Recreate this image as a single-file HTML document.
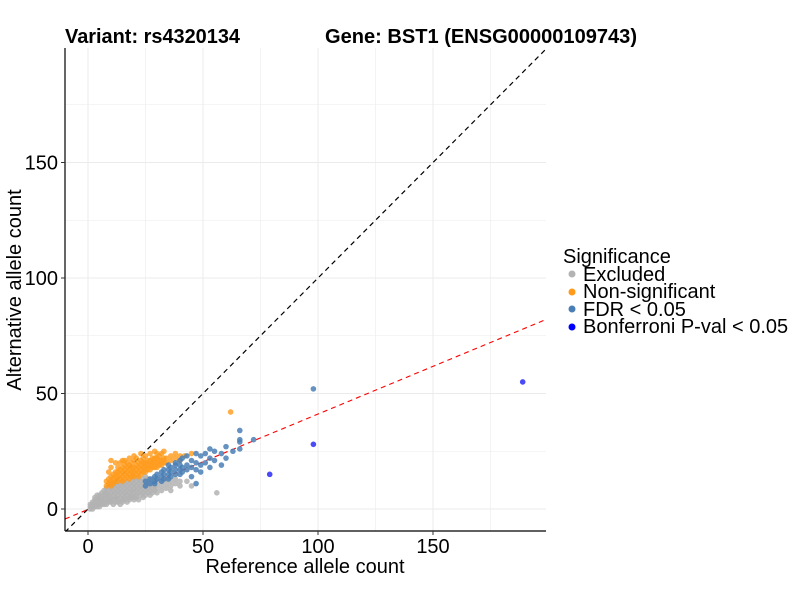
<!DOCTYPE html>
<html><head><meta charset="utf-8"><style>
body{margin:0;background:#fff;font-family:"Liberation Sans",Arial,sans-serif}
</style></head><body>
<svg id="chart" width="800" height="600" xmlns="http://www.w3.org/2000/svg">
<rect width="800" height="600" fill="#fff"/>
<g id="grid"></g>
<g id="lines"></g>
<g id="pts"></g>
<g id="axes"></g>
<text x="65" y="43" font-size="20" font-weight="bold" textLength="175" lengthAdjust="spacingAndGlyphs">Variant: rs4320134</text>
<text x="325" y="43" font-size="20" font-weight="bold" textLength="312" lengthAdjust="spacingAndGlyphs">Gene: BST1 (ENSG00000109743)</text>
<text x="305" y="573" font-size="20" text-anchor="middle">Reference allele count</text>
<text transform="translate(21,290) rotate(-90)" font-size="20" text-anchor="middle">Alternative allele count</text>
<g font-size="20">
<text x="563" y="263">Significance</text>
<g><circle cx="572" cy="274" r="3.5" fill="#b3b3b3"/><text x="583" y="281">Excluded</text></g>
<g><circle cx="572" cy="292" r="3.5" fill="#ff9a1a"/><text x="583" y="298">Non-significant</text></g>
<g><circle cx="572" cy="309" r="3.5" fill="#4a7fb5"/><text x="583" y="316">FDR &lt; 0.05</text></g>
<g><circle cx="572" cy="327" r="3.5" fill="#0000ff"/><text x="583" y="333">Bonferroni P-val &lt; 0.05</text></g>
</g>
</svg>
<script>
const xTicks=[0,50,100,150];
const yTicks=[0,50,100,150];
const xMinor=[25,75,125,175];
const yMinor=[25,75,125,175];
const redSlope=0.413, redIntercept=-0.2;
const grayPts=[[1,0],[1,1],[1,2],[2,1],[2,2],[2,3],[2,0],[3,1],[3,2],[3,3],[3,4],[3,5],[4,2],[4,3],[4,4],[4,1],[4,6],[5,2],[5,3],[5,5],[5,6],[5,1],[6,2],[6,4],[6,5],[6,7],[6,3],[7,3],[7,4],[7,6],[7,8],[7,2],[8,3],[8,5],[8,6],[8,7],[8,9],[8,2],[9,3],[9,4],[9,6],[9,8],[9,10],[10,4],[10,5],[10,7],[10,9],[10,3],[10,11],[11,4],[11,6],[11,8],[11,10],[11,2],[12,3],[12,5],[12,7],[12,9],[12,11],[13,4],[13,6],[13,8],[13,10],[13,3],[14,5],[14,7],[14,9],[14,11],[14,2],[15,4],[15,6],[15,8],[15,10],[15,12],[15,3],[16,5],[16,7],[16,9],[16,11],[16,4],[17,6],[17,8],[17,10],[17,12],[17,3],[18,5],[18,7],[18,9],[18,11],[18,4],[19,6],[19,8],[19,10],[19,12],[19,5],[20,5],[20,7],[20,9],[20,11],[20,13],[20,4],[21,6],[21,8],[21,10],[21,12],[21,5],[22,7],[22,9],[22,11],[22,13],[22,4],[23,6],[23,8],[23,10],[23,12],[24,7],[24,9],[24,11],[24,13],[24,5],[25,6],[25,8],[25,10],[25,12],[25,14],[26,7],[26,9],[26,11],[26,13],[27,8],[27,10],[27,12],[27,6],[28,7],[28,9],[28,11],[28,13],[29,8],[29,10],[29,12],[30,7],[30,9],[30,11],[30,13],[32,8],[32,10],[32,12],[34,9],[34,11],[34,13],[36,10],[36,12],[36,8],[38,11],[38,13],[40,10],[40,12],[43,12],[45,10],[56,7]];
const orangePts=[[8,10],[8,12],[9,11],[9,13],[9,16],[10,10],[10,12],[10,14],[10,18],[10,21],[11,11],[11,13],[11,15],[12,12],[12,14],[12,16],[12,20],[13,12],[13,14],[13,16],[13,18],[14,13],[14,15],[14,17],[14,20],[15,12],[15,14],[15,16],[15,18],[15,21],[16,13],[16,15],[16,17],[16,19],[16,21],[17,14],[17,16],[17,18],[17,20],[18,13],[18,15],[18,17],[18,19],[18,22],[19,14],[19,16],[19,18],[19,20],[20,14],[20,16],[20,18],[20,21],[20,23],[21,15],[21,17],[21,19],[21,22],[22,14],[22,16],[22,18],[22,20],[23,15],[23,17],[23,19],[23,21],[23,24],[24,16],[24,18],[24,20],[24,22],[25,16],[25,18],[25,20],[25,23],[26,17],[26,19],[26,21],[27,17],[27,19],[27,21],[27,24],[28,18],[28,20],[28,22],[29,18],[29,20],[29,22],[29,25],[30,18],[30,20],[30,22],[30,24],[31,19],[31,21],[31,23],[32,19],[32,21],[32,24],[33,20],[33,22],[33,25],[34,20],[34,22],[36,21],[36,23],[38,22],[38,24],[40,21],[40,23],[42,23],[45,24],[62,42]];
const bluePts=[[25,10],[25,12],[27,11],[27,13],[29,11],[29,12],[29,14],[30,13],[30,15],[32,12],[32,14],[32,16],[33,13],[33,15],[33,17],[35,13],[35,15],[35,17],[35,19],[36,14],[36,16],[36,18],[38,15],[38,17],[38,19],[38,20],[40,15],[40,17],[40,19],[40,21],[41,16],[41,18],[41,22],[43,17],[43,19],[43,23],[45,18],[45,21],[45,14],[47,20],[47,24],[47,17],[47,11],[49,19],[49,23],[49,16],[51,24],[51,20],[53,22],[53,18],[53,26],[55,21],[55,25],[58,19],[58,24],[60,22],[60,27],[63,25],[66,26],[66,30],[66,34],[66,29],[72,30],[98,52]];
const bonfPts=[[79,15],[98,28],[189,55]];
const L=65,R=546,T=48,B=531;
const X0=88,PXU=2.3,Y0=509,PYU=2.31;
const sx=v=>X0+v*PXU, sy=v=>Y0-v*PYU;
const xMin=(L-X0)/PXU, xMax=(R-X0)/PXU;
const NS='http://www.w3.org/2000/svg';
function mk(tag,attrs,parent){const e=document.createElementNS(NS,tag);for(const k in attrs)e.setAttribute(k,attrs[k]);parent.appendChild(e);return e;}
const grid=document.getElementById('grid');
xMinor.concat(xTicks).forEach(v=>{const e=mk('line',{x1:sx(v),x2:sx(v),y1:T,y2:B,stroke:'#ebebeb','stroke-width':xTicks.includes(v)?1:0.6},grid);

});
yMinor.concat(yTicks).forEach(v=>{const e=mk('line',{x1:L,x2:R,y1:sy(v),y2:sy(v),stroke:'#ebebeb','stroke-width':yTicks.includes(v)?1:0.6},grid);

});
const lines=document.getElementById('lines');
const cp=mk('clipPath',{id:'clip'},lines);mk('rect',{x:L,y:T,width:R-L,height:B-T},cp);
const d=mk('line',{x1:sx(xMin),y1:sy(xMin),x2:sx(xMax),y2:sy(xMax),stroke:'#000','stroke-width':1.2,'stroke-dasharray':'5,4','clip-path':'url(#clip)'},lines);


const r=mk('line',{x1:sx(xMin),y1:sy(redIntercept+redSlope*xMin),x2:sx(xMax),y2:sy(redIntercept+redSlope*xMax),stroke:'#ff0000','stroke-width':1.1,'stroke-dasharray':'5,4','clip-path':'url(#clip)'},lines);


const pts=document.getElementById('pts');
function draw(arr,col,op,name){arr.forEach(p=>{const c=mk('circle',{cx:sx(p[0]),cy:sy(p[1]),r:2.8,fill:col,'fill-opacity':op},pts);

});}
draw(grayPts,'#b3b3b3',0.85,'point-excluded');
draw(orangePts,'#ff9a1a',0.8,'point-non-significant');
draw(bluePts,'#4a7fb5',0.85,'point-fdr');
draw(bonfPts,'#2a2af5',0.85,'point-bonferroni');
const ax=document.getElementById('axes');
mk('line',{x1:L,x2:L,y1:T,y2:B,stroke:'#000','stroke-width':1.2},ax);
mk('line',{x1:L,x2:R,y1:B,y2:B,stroke:'#000','stroke-width':1.2},ax);
xTicks.forEach(v=>{mk('line',{x1:sx(v),x2:sx(v),y1:B,y2:B+4,stroke:'#333'},ax);
const t=mk('text',{x:sx(v),y:B+22,'font-size':20,'text-anchor':'middle',fill:'#000'},ax);t.textContent=v;

});
yTicks.forEach(v=>{mk('line',{x1:L-4,x2:L,y1:sy(v),y2:sy(v),stroke:'#333'},ax);
const t=mk('text',{x:L-7,y:sy(v)+7,'font-size':20,'text-anchor':'end',fill:'#000'},ax);t.textContent=v;

});
</script>
</body></html>
